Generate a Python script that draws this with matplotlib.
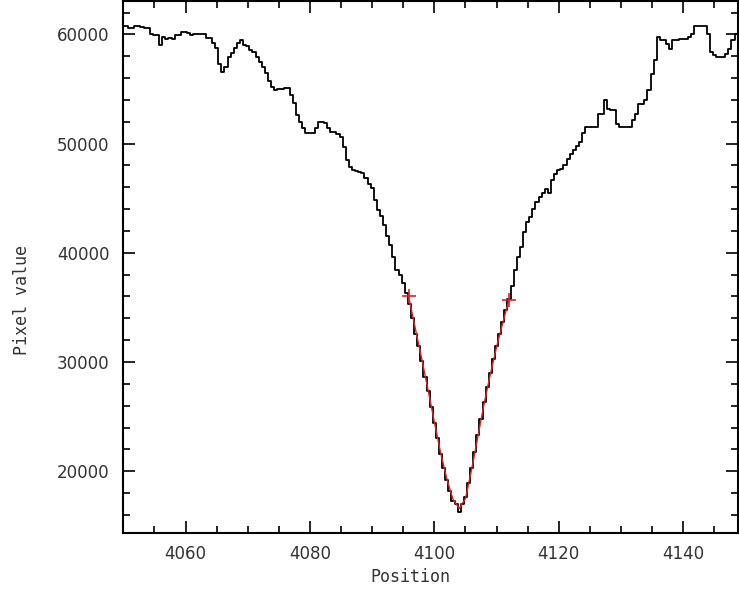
import matplotlib
matplotlib.use("Agg")
import matplotlib.pyplot as plt
from matplotlib.ticker import MultipleLocator

# pixel values sampled every half position, starting at 4050.0
pixel_values = [
    60730, 60730, 60550, 60550, 60800, 60800, 60700, 60600, 60600, 60060,   # 4050.0-4054.5
    59940, 59940, 59000, 59800, 59600, 59700, 59600, 59900, 59900, 60250,   # 4055.0-4059.5
    60250, 60100, 59900, 60000, 60000, 60000, 60000, 59680, 59680, 59240,   # 4060.0-4064.5
    58780, 57270, 56520, 56970, 57900, 58330, 58780, 59240, 59450, 59060,   # 4065.0-4069.5
    58900, 58600, 58420, 57970, 57510, 57050, 56460, 55700, 55210, 54900,   # 4070.0-4074.5
    55000, 55000, 55060, 55060, 54450, 53700, 52630, 52020, 51400, 50960,   # 4075.0-4079.5
    50960, 50960, 51400, 52020, 52020, 51860, 51400, 51100, 51100, 50900,   # 4080.0-4084.5
    50600, 49700, 48500, 47860, 47560, 47500, 47400, 47300, 46820, 46300,   # 4085.0-4089.5
    45900, 44800, 43900, 43400, 42500, 41500, 40700, 39620, 38400, 37950,   # 4090.0-4094.5
    37200, 36300, 35300, 34000, 32600, 31500, 30100, 28600, 27300, 25900,   # 4095.0-4099.5
    24400, 23000, 21600, 20300, 19200, 18200, 17300, 17000, 16300, 17000,   # 4100.0-4104.5
    17600, 18900, 20300, 21800, 23300, 24800, 26300, 27700, 29000, 30300,   # 4105.0-4109.5
    31500, 32600, 33700, 34800, 35800, 37000, 38400, 39600, 40500, 41900,   # 4110.0-4114.5
    42800, 43300, 44050, 44660, 45110, 45500, 45880, 45480, 46640, 47250,   # 4115.0-4119.5
    47560, 47700, 48010, 48620, 49000, 49390, 49800, 50150, 51000, 51520,   # 4120.0-4124.5
    51520, 51520, 51520, 52740, 52740, 53960, 53200, 53050, 53050, 51830,   # 4125.0-4129.5
    51520, 51520, 51520, 51520, 52200, 52740, 53660, 53660, 53960, 54880,   # 4130.0-4134.5
    56400, 57620, 59750, 59450, 59450, 59150, 58690, 59510, 59510, 59550,   # 4135.0-4139.5
    59600, 59600, 59800, 60060, 60730, 60730, 60730, 60730, 60060, 58380,   # 4140.0-4144.5
    58100, 57920, 57920, 57920, 58200, 58700, 59500, 60060, 60500,          # 4145.0-4149.0
]
positions = [4050 + 0.5 * i for i in range(len(pixel_values))]

# fitted line profile over the fit window
fit_positions = list(range(4096, 4113))
fit_values = [
    35600, 32900, 30200, 27400, 24500, 21700, 19300, 17400, 16600,
    17500, 20200, 23200, 26200, 28900, 31400, 33600, 35700,
]
# ends of the fit window
limit_positions = [4096, 4112]
limit_values = [36000, 35700]

W, H = 739, 592
fig = plt.figure(figsize=(W / 100, H / 100), dpi=100)
ax = fig.add_axes([123.3 / W, 1 - 532.7 / H, (738 - 123.3) / W, 532.2 / H])

ax.step(positions, pixel_values, where="mid", color="black", lw=1.3)
ax.plot(fit_positions, fit_values, color="#e02020", lw=1.0)
ax.plot(limit_positions, limit_values, "+", color="#e02020", ms=10, mew=1.2)

ax.set_xlim(4050, 4148.8)
ax.set_ylim(14370, 63100)

ax.xaxis.set_major_locator(MultipleLocator(20))
ax.xaxis.set_minor_locator(MultipleLocator(5))
ax.yaxis.set_major_locator(MultipleLocator(10000))
ax.yaxis.set_minor_locator(MultipleLocator(2000))
ax.tick_params(which="both", direction="in", top=True, right=True,
               color="black", width=1.2)
ax.tick_params(which="major", length=8.6, labelsize=12, pad=9,
               labelcolor="#333333")
ax.tick_params(which="minor", length=5)
ax.tick_params(axis="y", which="major", pad=10)
for s in ax.spines.values():
    s.set_linewidth(1.5)

fig.text(410 / W, 1 - 577 / H, "Position", ha="center", va="center",
         family="DejaVu Sans Mono", fontsize=12, color="#333333")
fig.text(22 / W, 1 - 300 / H, "Pixel value", ha="center", va="center",
         rotation=90, family="DejaVu Sans Mono", fontsize=12, color="#333333")

fig.savefig("out.png", dpi=100)
